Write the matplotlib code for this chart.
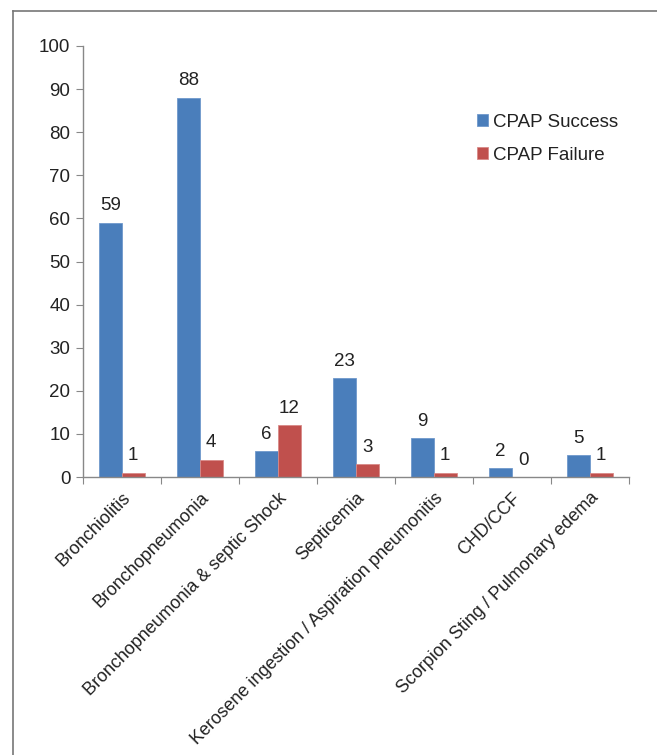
import matplotlib
matplotlib.use("Agg")
import matplotlib.pyplot as plt
from matplotlib.lines import Line2D
import numpy as np

plt.rcParams['font.family'] = ['Liberation Sans', 'DejaVu Sans']

categories = ["Bronchiolitis", "Bronchopneumonia", "Bronchopneumonia & septic Shock",
              "Septicemia", "Kerosene ingestion / Aspiration pneumonitis", "CHD/CCF",
              "Scorpion Sting / Pulmonary edema"]
success = [59, 88, 6, 23, 9, 2, 5]
failure = [1, 4, 12, 3, 1, 0, 1]
yticks = list(range(0, 101, 10))

FS = 13.5
W, H = 657, 755
fig = plt.figure(figsize=(W/100, H/100), dpi=100)
ax = fig.add_axes([83/W, 1-477/H, (629-83)/W, (477-46)/H])

x = np.arange(len(categories))
bw = 0.29
blue = '#4a7ebb'
red = '#c0504d'
ax.bar(x - bw/2, success, bw, color=blue, edgecolor='#6f98cc', linewidth=0.6, label='CPAP Success')
ax.bar(x + bw/2, failure, bw, color=red, edgecolor='#d98a88', linewidth=0.6, label='CPAP Failure')

for xi, v in zip(x - bw/2, success):
    ax.annotate(str(v), (xi, v), xytext=(0, 6), textcoords='offset points',
                ha='center', va='bottom', fontsize=FS, color='#222222')
for xi, v in zip(x + bw/2, failure):
    ax.annotate(str(v), (xi, v), xytext=(0, 6), textcoords='offset points',
                ha='center', va='bottom', fontsize=FS, color='#222222')

ax.set_xlim(-0.5, len(categories) - 0.5)
ax.set_ylim(0, 100)
ax.set_yticks(yticks)
ax.set_yticklabels([str(t) for t in yticks], fontsize=FS, color='#222222')

ax.set_xticks(np.arange(len(categories) + 1) - 0.5)
ax.set_xticklabels([])
ax.set_xticks(x, minor=True)
ax.set_xticklabels(categories, minor=True, rotation=45, ha='right', va='top',
                   rotation_mode='anchor', fontsize=12.9, color='#222222')
ax.tick_params(axis='x', which='minor', length=0, pad=9)
ax.tick_params(axis='x', which='major', length=5, color='#888888', direction='out')
ax.tick_params(axis='y', length=5, color='#888888', direction='out', pad=4)

for s in ['top', 'right']:
    ax.spines[s].set_visible(False)
for s in ['left', 'bottom']:
    ax.spines[s].set_color('#888888')
    ax.spines[s].set_linewidth(1.0)

leg = ax.legend(loc='upper left', bbox_to_anchor=(0.690, 0.882), frameon=False,
                fontsize=FS, handlelength=0.6, handleheight=0.6, handletextpad=0.25,
                labelspacing=0.85)
for t in leg.get_texts():
    t.set_color('#222222')

# outer frame
fig.add_artist(Line2D([13/W, 13/W], [0, 1-11/H], transform=fig.transFigure,
                      color='#777777', linewidth=1.2))
fig.add_artist(Line2D([13/W, 1], [1-11/H, 1-11/H], transform=fig.transFigure,
                      color='#777777', linewidth=1.2))

fig.savefig('out.png', dpi=100)
